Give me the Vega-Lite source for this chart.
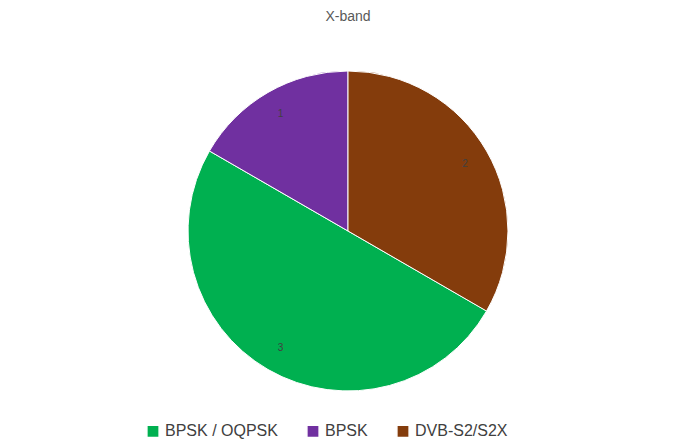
{
  "$schema": "https://vega.github.io/schema/vega-lite/v6.json",
  "width": 696,
  "height": 444,
  "autosize": {"type": "fit", "contains": "padding"},
  "padding": {"top": 10, "bottom": 10, "left": 5, "right": 5},
  "title": {"text": "X-band", "font": "Liberation Sans", "fontSize": 14, "fontWeight": "normal", "color": "#595959"},
  "config": {"view": {"stroke": null}},
  "data": {
    "values": [
      {"scheme": "BPSK / OQPSK", "count": 3, "ord": 1},
      {"scheme": "BPSK", "count": 1, "ord": 2},
      {"scheme": "DVB-S2/S2X", "count": 2, "ord": 3}
    ]
  },
  "encoding": {
    "theta": {"field": "count", "type": "quantitative", "stack": true, "scale": {"range": [2.094, 8.378]}},
    "order": {"field": "ord"}
  },
  "layer": [
    {"mark": {"type": "arc", "outerRadius": 160, "stroke": "white", "strokeWidth": 1},
     "encoding": {
      "color": {
        "field": "scheme", "type": "nominal",
        "sort": ["BPSK / OQPSK", "BPSK", "DVB-S2/S2X"],
        "scale": {"domain": ["BPSK / OQPSK", "BPSK", "DVB-S2/S2X"], "range": ["#00b050", "#7030a0", "#843c0c"]},
        "legend": {"orient": "none", "direction": "horizontal", "legendX": 140, "legendY": 395, "title": null, "labelFontSize": 16, "labelFont": "Liberation Sans", "labelColor": "#404040", "symbolType": "square", "symbolSize": 150, "columnPadding": 25}
      }
     }},
    {"mark": {"type": "text", "radius": 135, "fontSize": 10, "color": "#404040"},
     "encoding": {"text": {"field": "count", "type": "quantitative"}}}
  ]
}
